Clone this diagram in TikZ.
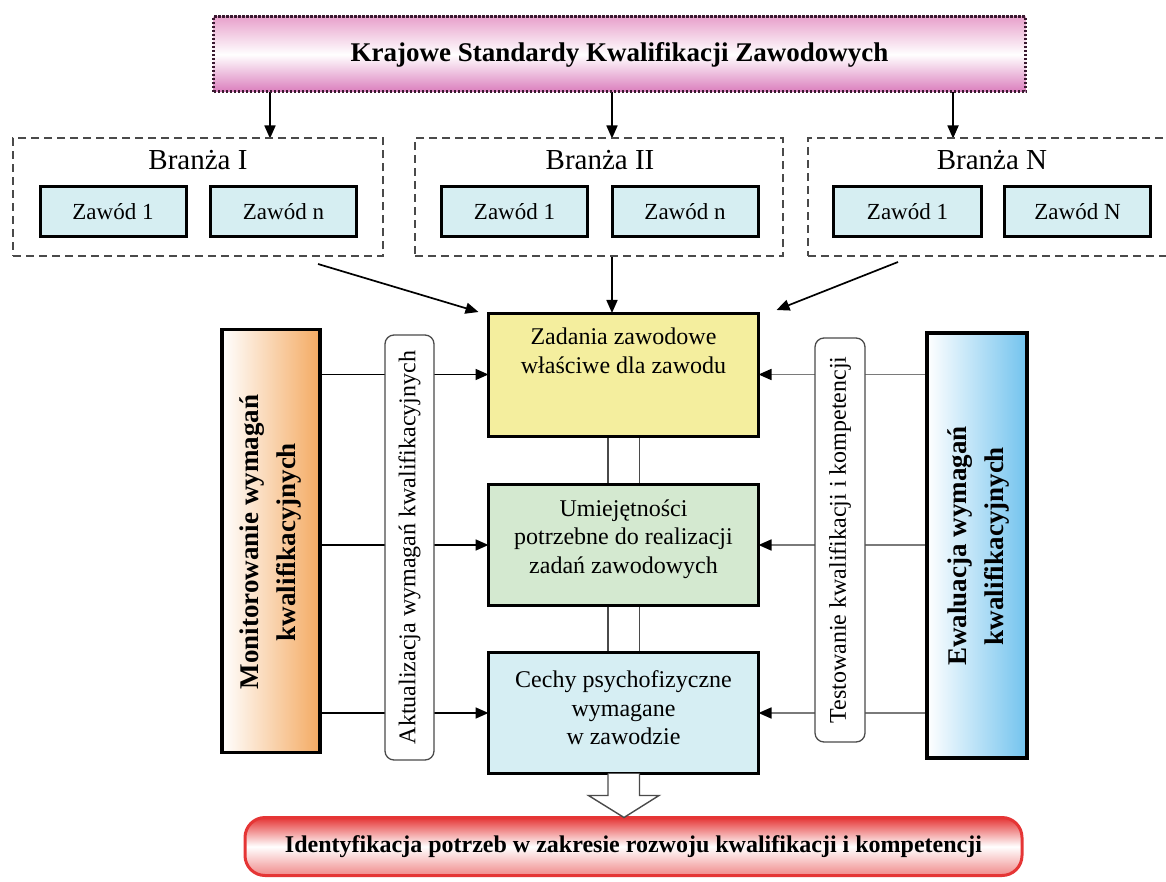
\documentclass[tikz,border=0pt]{standalone}
\usepackage{fontspec}
\setmainfont{Liberation Serif}
\usetikzlibrary{arrows.meta,calc,backgrounds}
\definecolor{zfill}{HTML}{D6EEF2}
\definecolor{yfill}{HTML}{F4EE9E}
\definecolor{gfill}{HTML}{D4E9D0}
\definecolor{bfill}{HTML}{D6EEF3}
\definecolor{dgray}{HTML}{4A4A4A}
\definecolor{pinktop}{HTML}{E8A2CC}
\definecolor{pinkbot}{HTML}{DA7DBC}
\definecolor{dotcol}{HTML}{3A1A30}
\definecolor{orng}{HTML}{F4AA62}
\definecolor{skyb}{HTML}{72C3EE}
\definecolor{redb}{HTML}{E53535}
\definecolor{redbot}{HTML}{F08A8A}
\definecolor{lgray}{HTML}{7A7A7A}
\begin{document}
\begin{tikzpicture}[x=1pt,y=-1pt,
  every node/.style={inner sep=0pt,outer sep=0pt},
  zawod/.style={draw=black,line width=3pt,fill=zfill,minimum width=146pt,minimum height=50pt,font=\fontsize{23}{27}\selectfont},
  branza/.style={draw=dgray,line width=2pt,dash pattern=on 8pt off 5pt,minimum height=118pt},
  btitle/.style={font=\fontsize{29}{34}\selectfont,anchor=base},
  mainbox/.style={draw=black,line width=3pt,minimum width=270pt,minimum height=121pt},
  boxtext/.style={font=\fontsize{24}{28.5}\selectfont,align=center},
  sidebox/.style={draw=black,line width=3.5pt,minimum width=98pt,minimum height=423pt},
  sidetext/.style={font=\bfseries\fontsize{27}{37}\selectfont,align=center,rotate=90},
  pill/.style={draw=dgray,line width=1.3pt,rounded corners=9pt,fill=white,rotate=90,font=\fontsize{24}{28}\selectfont},
  arr/.style={line width=1.7pt,-{Triangle[length=13pt,width=11pt]}},
  garr/.style={line width=1.7pt,draw=lgray,-{Triangle[length=13pt,width=11pt,color=black]}},
  dline/.style={line width=1.6pt,draw=dgray}
]
\useasboundingbox (0,0) rectangle (1166,882);

% top box
\node[draw=dotcol,line width=3pt,dash pattern=on 2.2pt off 1.8pt,
      top color=pinktop,bottom color=pinkbot,middle color=white,
      minimum width=812pt,minimum height=75pt,
      font=\bfseries\fontsize{27}{32}\selectfont] (ksz) at (619.5,54.5)
      {Krajowe Standardy Kwalifikacji Zawodowych};

% branza boxes
\node[branza,minimum width=370pt] (b1) at (198,197.5) {};
\node[btitle] (b1t) at (198,170) {Branża I};
\node[zawod] (z11) at (113,212) {Zawód 1};
\node[zawod] (z1n) at (283.5,212) {Zawód n};

\node[branza,minimum width=368pt] (b2) at (599,197.5) {};
\node[btitle] (b2t) at (600,170) {Branża II};
\node[zawod] (z21) at (514.5,212) {Zawód 1};
\node[zawod] (z2n) at (685,212) {Zawód n};

\node[branza,minimum width=372pt] (bN) at (994,197.5) {};
\node[btitle] (bNt) at (992,170) {Branża N};
\node[zawod,minimum width=148pt] (zN1) at (907.5,212) {Zawód 1};
\node[zawod] (zNN) at (1077.5,212) {Zawód N};

% main boxes
\node[mainbox,fill=yfill,minimum height=123pt,
      label={[boxtext,anchor=north,yshift=-15pt]north:{Zadania zawodowe\\właściwe dla zawodu}}] (zad) at (623.5,374.5) {};
\node[mainbox,fill=gfill] (umi) at (623.5,545) {};
\node[boxtext] (umit) at (623.5,539) {Umiejętności\\potrzebne do realizacji\\zadań zawodowych};
\node[mainbox,fill=bfill] (cec) at (623.5,713) {};
\node[boxtext] (cect) at (623.5,708) {Cechy psychofizyczne\\wymagane\\w zawodzie};

% side boxes
\node[sidebox,left color=white,right color=orng] (mon) at (271,541) {};
\node[sidetext] (mont) at (271,542) {Monitorowanie wymagań\\kwalifikacyjnych};
\node[sidebox,left color=white,right color=skyb,minimum width=100pt,minimum height=425pt] (ewa) at (977,545.5) {};
\node[sidetext] (ewat) at (979,546) {Ewaluacja wymagań\\kwalifikacyjnych};

\node[pill,minimum width=425pt,minimum height=49pt] (akt) at (409.5,547.5) {Aktualizacja wymagań kwalifikacyjnych};
\node[pill,minimum width=404pt,minimum height=50pt] (tes) at (840,540) {Testowanie kwalifikacji i kompetencji};

% bottom box
\node[draw=redb,line width=3pt,rounded corners=20pt,
      top color=redb,bottom color=redbot,middle color=white,
      minimum width=777pt,minimum height=58pt,
      font=\bfseries\fontsize{24}{28}\selectfont] (idn) at (633.5,846.5)
      {Identyfikacja potrzeb w zakresie rozwoju kwalifikacji i kompetencji};

% connectors
\begin{scope}[on background layer]
  \draw[arr] (ksz.south -| 270,0) -- (b1.north -| 270,0);
  \draw[arr] (ksz.south -| 612,0) -- (b2.north -| 612,0);
  \draw[arr] (ksz.south -| 953,0) -- (bN.north -| 953,0);

  \coordinate (b1o) at (318,264);
  \coordinate (bNo) at (898,262);
  \draw[arr] (b1o) -- ($(zad.north west)+(-10,-1)$);
  \draw[arr] (b2.south -| 612,0) -- (zad.north -| 612,0);
  \draw[arr] (bNo) -- ($(zad.north east)+(18,-3)$);

  \draw[arr] (mon.east |- zad.west) -- (zad.west);
  \draw[arr] (mon.east |- umi.west) -- (umi.west);
  \draw[arr] (mon.east |- cec.west) -- (cec.west);

  \draw[garr] (ewa.west |- zad.east) -- (zad.east);
  \draw[garr] (ewa.west |- umi.east) -- (umi.east);
  \draw[garr] (ewa.west |- cec.east) -- (cec.east);

  \draw[dline] ($(zad.south)+(-15.5,0)$) -- ($(umi.north)+(-15.5,0)$);
  \draw[dline] ($(zad.south)+(16,0)$) -- ($(umi.north)+(16,0)$);
  \draw[dline] ($(umi.south)+(-15.5,0)$) -- ($(cec.north)+(-15.5,0)$);
  \draw[dline] ($(umi.south)+(16,0)$) -- ($(cec.north)+(16,0)$);
\end{scope}

% hollow arrow
\draw[line width=1.4pt,draw=dgray,fill=white,line join=miter]
  ($(cec.south)+(-15.5,0)$) -- ($(cec.south)+(-15.5,22)$) -- ($(cec.south)+(-35,22)$)
  -- ($(idn.north)+(-9.5,0)$) -- ($(cec.south)+(35.5,22)$) -- ($(cec.south)+(16,22)$)
  -- ($(cec.south)+(16,0)$);
\end{tikzpicture}
\end{document}
